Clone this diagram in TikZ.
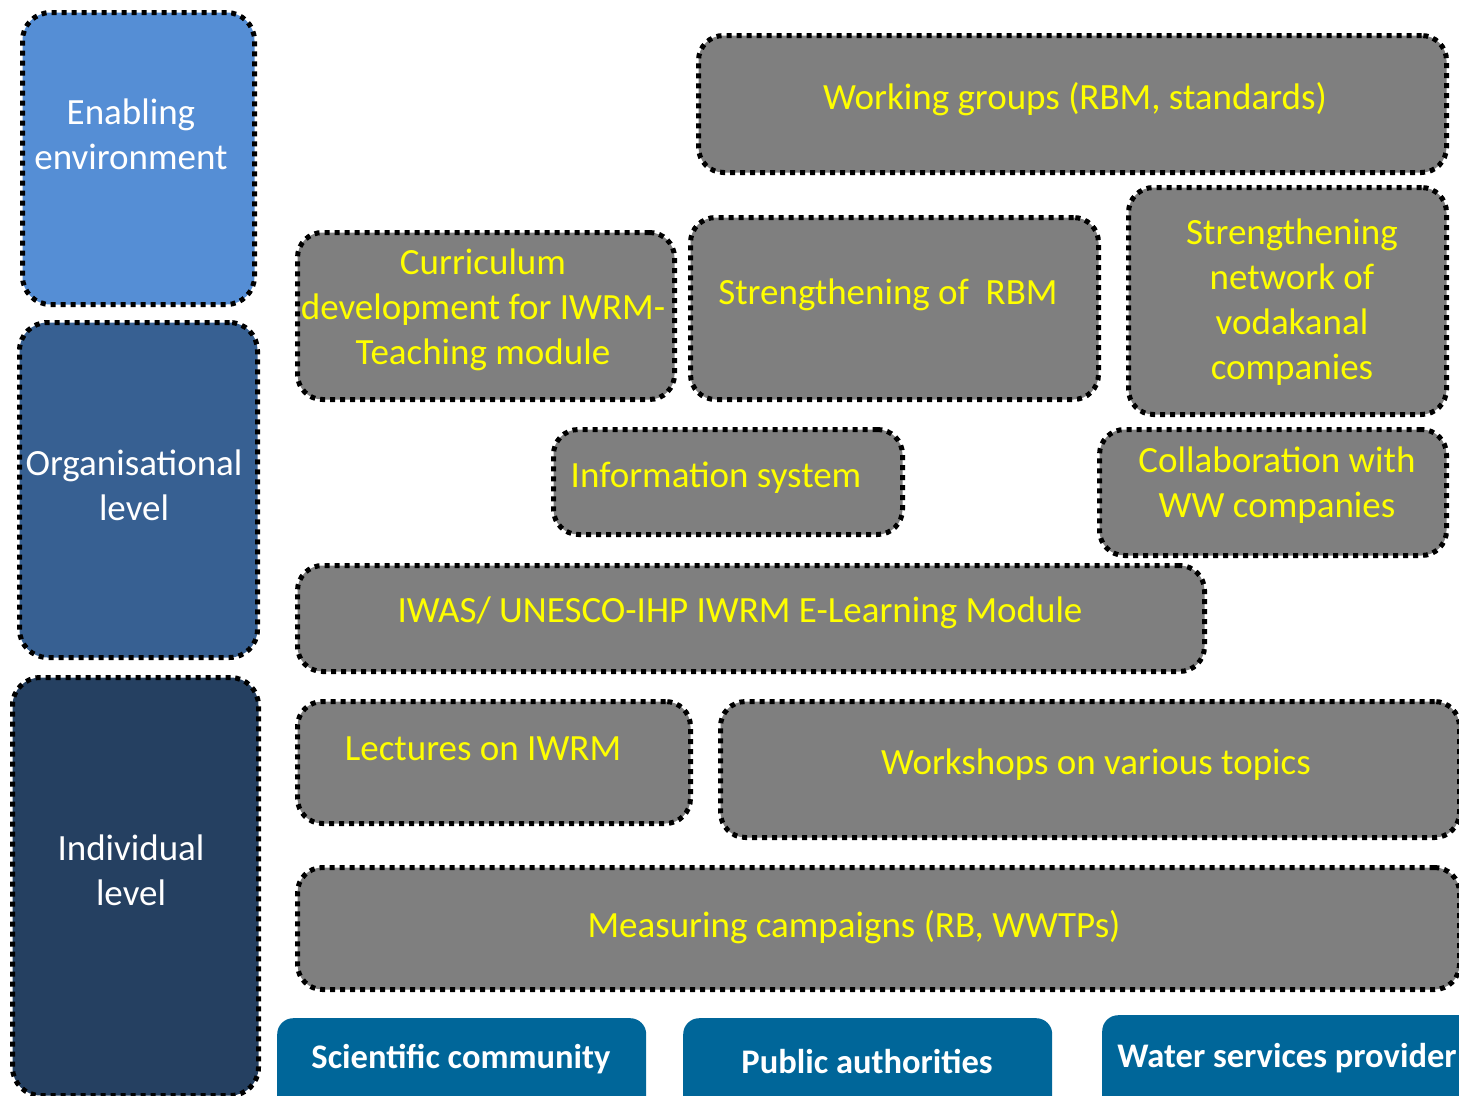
\documentclass[tikz,border=0pt]{standalone}
\usepackage{fontspec}
\setmainfont{Carlito}
\definecolor{envblue}{RGB}{85,142,213}
\definecolor{orgblue}{RGB}{55,96,146}
\definecolor{indblue}{RGB}{37,64,97}
\definecolor{tabblue}{RGB}{0,102,153}
\definecolor{boxgray}{RGB}{127,127,127}
\definecolor{txtyellow}{RGB}{255,255,0}
\tikzset{
  dotborder/.style={draw=black, line width=5pt, dash pattern=on 5pt off 5pt, anchor=north west, inner sep=0pt},
  gbox/.style={dotborder, fill=boxgray, rounded corners=25pt},
  lbox/.style={dotborder, rounded corners=28pt},
  tabbox/.style={fill=tabblue, rounded corners=16pt, anchor=north west, inner sep=0pt},
  gtxt/.style={text=txtyellow, align=center, inner sep=0pt, font=\fontsize{37}{45}\selectfont},
  ltxt/.style={text=white, align=center, inner sep=0pt, font=\fontsize{37}{45}\selectfont},
  ttxt/.style={text=white, inner sep=0pt, font=\bfseries\fontsize{34.5}{40}\selectfont},
}
\begin{document}
\begin{tikzpicture}[x=1pt,y=-1pt]
\useasboundingbox (0,0) rectangle (1459,1095);
% left level boxes
\node[lbox, fill=envblue, minimum width=232pt, minimum height=292pt] (env) at (20,10) {};
\node[ltxt] (envt) at (131,134) {Enabling\\environment};
\node[lbox, fill=orgblue, minimum width=238pt, minimum height=335pt] (org) at (17,320) {};
\node[ltxt] (orgt) at (134,485) {Organisational\\level};
\node[lbox, fill=indblue, minimum width=246pt, minimum height=418pt] (ind) at (10,675) {};
\node[ltxt] (indt) at (131,870) {Individual\\level};
% gray activity boxes
\node[gbox, minimum width=748pt, minimum height=137pt] (wg) at (696,33) {};
\node[gtxt] (wgt) at (1075,99) {Working groups (RBM, standards)};
\node[gbox, minimum width=377pt, minimum height=167pt] (cur) at (295,230) {};
\node[gtxt] (curt) at (483,310) {Curriculum\\development for IWRM-\\Teaching module};
\node[gbox, minimum width=408pt, minimum height=182pt] (rbm) at (688,215) {};
\node[gtxt] (rbmt) at (888,295) {Strengthening of~~RBM};
\node[gbox, minimum width=318pt, minimum height=227pt] (net) at (1126,185) {};
\node[gtxt] (nett) at (1292,302) {Strengthening\\network of\\vodakanal\\companies};
\node[gbox, minimum width=349pt, minimum height=105pt] (inf) at (551,427) {};
\node[gtxt] (inft) at (716,478) {Information system};
\node[gbox, minimum width=347pt, minimum height=126pt] (col) at (1097,427) {};
\node[gtxt] (colt) at (1277,485) {Collaboration with\\WW companies};
\node[gbox, minimum width=907pt, minimum height=106pt] (iwas) at (295,563) {};
\node[gtxt] (iwast) at (740,613) {IWAS/ UNESCO-IHP IWRM E-Learning Module};
\node[gbox, minimum width=393pt, minimum height=122pt] (lec) at (295,699) {};
\node[gtxt] (lect) at (483,749) {Lectures on IWRM};
\node[gbox, minimum width=739pt, minimum height=136pt] (ws) at (718,699) {};
\node[gtxt] (wst) at (1096,765) {Workshops on various topics};
\node[gbox, minimum width=1162pt, minimum height=122pt] (mc) at (295,865) {};
\node[gtxt] (mct) at (854,927) {Measuring campaigns (RB, WWTPs)};
% bottom tabs
\node[tabbox, minimum width=369pt, minimum height=100pt] (sci) at (277,1018) {};
\node[ttxt] (scit) at (461,1059) {Scientific community};
\node[tabbox, minimum width=369pt, minimum height=100pt] (pub) at (683,1018) {};
\node[ttxt] (pubt) at (867,1061) {Public authorities};
\node[tabbox, minimum width=380pt, minimum height=100pt] (wat) at (1102,1015) {};
\node[ttxt] (watt) at (1287,1058) {Water services provider};
\end{tikzpicture}
\end{document}
